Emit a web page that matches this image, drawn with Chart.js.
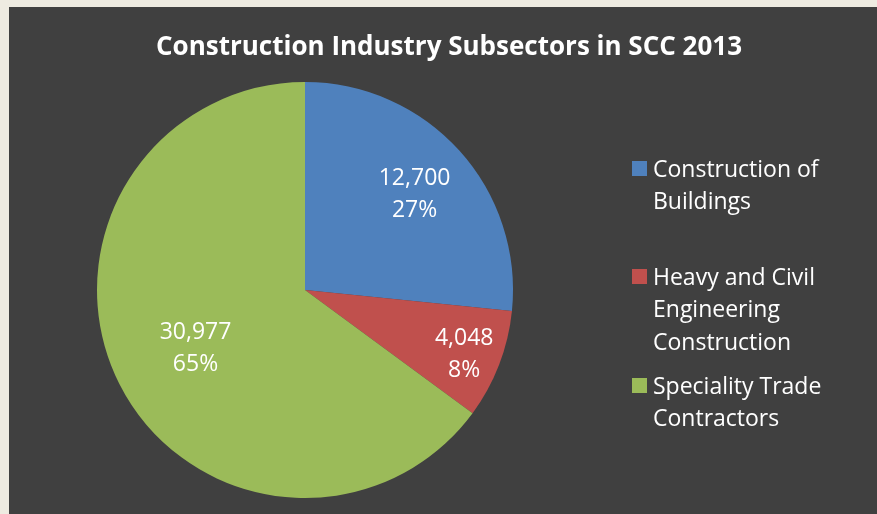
<!DOCTYPE html>
<html>
<head>
<meta charset="utf-8">
<script src="https://cdn.jsdelivr.net/npm/chart.js@4"></script>
<style>
  html, body { margin: 0; padding: 0; background: #eeebe1; overflow: hidden; }
  #wrap { position: absolute; left: 9px; top: 7px; width: 868px; height: 507px; background: #404040; }
</style>
</head>
<body>
<div id="wrap"><canvas id="pieChart"></canvas></div>
<script>
// Chart data
const chartTitle = 'Construction Industry Subsectors in SCC 2013';
const categories = ['Construction of Buildings', 'Heavy and Civil Engineering Construction', 'Speciality Trade Contractors'];
const legendLines = [['Construction of', 'Buildings'], ['Heavy and Civil', 'Engineering', 'Construction'], ['Speciality Trade', 'Contractors']];
const values = [12700, 4048, 30977];
const colors = ['#4f81bd', '#c0504d', '#9bbb59'];

const FONT = '"Open Sans", "Liberation Sans", sans-serif';

// Title, legend and slice labels drawn on the canvas
const annotatePlugin = {
  id: 'annotate',
  afterDraw(chart) {
    const c = chart.ctx;
    c.save();
    c.fillStyle = '#ffffff';
    c.textAlign = 'center';
    c.textBaseline = 'middle';
    c.font = 'bold 26px ' + FONT;
    c.fillText(chartTitle, 440, 41);

    // slice labels
    const total = values.reduce((a, b) => a + b, 0);
    const radiusFrac = [0.71, 0.82, 0.59];
    c.font = '23px ' + FONT;
    chart.getDatasetMeta(0).data.forEach((arc, i) => {
      const mid = (arc.startAngle + arc.endAngle) / 2;
      const r = arc.outerRadius * radiusFrac[i];
      const x = arc.x + Math.cos(mid) * r;
      const y = arc.y + Math.sin(mid) * r + 3;
      c.fillText(values[i].toLocaleString('en-US'), x, y - 16);
      c.fillText(Math.round(values[i] / total * 100) + '%', x, y + 16);
    });

    // legend
    const boxTops = [154, 262, 371];
    c.textAlign = 'left';
    c.font = '23px ' + FONT;
    legendLines.forEach((lines, i) => {
      c.fillStyle = colors[i];
      c.fillRect(623, boxTops[i], 15, 15);
      c.fillStyle = '#ffffff';
      lines.forEach((t, j) => c.fillText(t, 644, boxTops[i] + 9 + j * 32.5));
    });
    c.restore();
  }
};

let ctx = document.getElementById('pieChart').getContext('2d');
let pieChart = new Chart(ctx, {
  type: 'pie',
  data: {
    labels: categories,
    datasets: [{
      data: values,
      backgroundColor: colors,
      borderColor: colors,
      borderWidth: 0
    }]
  },
  options: {
    responsive: true,
    maintainAspectRatio: false,
    animation: false,
    layout: { padding: { left: 88, top: 75, right: 364, bottom: 16 } },
    plugins: {
      legend: { display: false },
      title: { display: false },
      tooltip: { enabled: false }
    }
  },
  plugins: [annotatePlugin]
});
</script>
</body>
</html>
